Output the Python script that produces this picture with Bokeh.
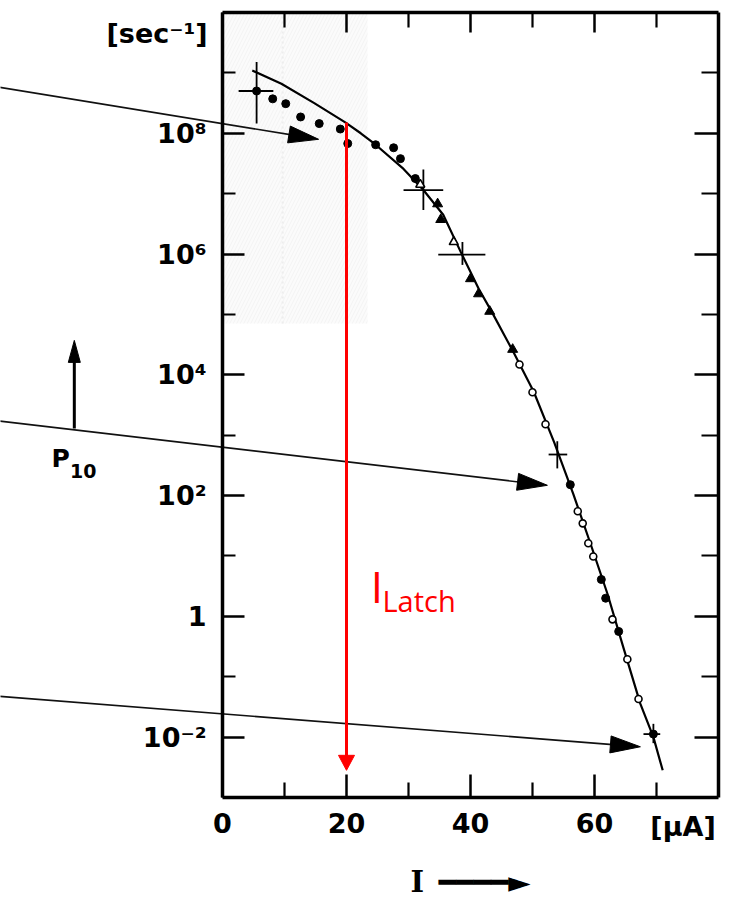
import math

from bokeh.embed import file_html
from bokeh.models import FixedTicker, Label, LinearAxis, LogAxis, Range1d
from bokeh.plotting import figure
from bokeh.resources import INLINE

# ---------------------------------------------------------------- data
# current I [uA] and log10 of the rate [1/sec]
curve_i = [4.8, 9.5, 14.8, 19.8, 22.3, 24.7, 29.2, 32.4, 35.6, 38.4, 41.3,
           43.5, 46.9, 50.2, 53.5, 56.6, 59.4, 62.1, 64.7, 67.4, 69.5, 71.0]
curve_log = [9.04, 8.82, 8.50, 8.18, 8.00, 7.81, 7.41, 7.06, 6.65, 6.04, 5.43,
             5.03, 4.38, 3.72, 2.88, 2.02, 1.19, 0.37, -0.53, -1.45, -2.00, -2.55]

dot_i = [5.5, 8.1, 10.2, 12.6, 15.6, 19.0, 20.2, 24.7, 27.6, 28.7, 31.1,
         56.1, 61.1, 61.8, 63.9, 69.5]
dot_log = [8.70, 8.57, 8.49, 8.27, 8.16, 8.07, 7.83, 7.81, 7.76, 7.58, 7.25,
           2.18, 0.61, 0.30, -0.25, -1.95]

tri_i = [34.7, 35.2, 40.0, 41.3, 43.1, 46.8]
tri_log = [6.83, 6.57, 5.59, 5.34, 5.05, 4.42]

open_tri_i = [31.9, 37.3]
open_tri_log = [7.15, 6.20]

open_dot_i = [47.9, 50.0, 52.1, 57.3, 58.1, 59.0, 59.8, 62.9, 65.3, 67.1]
open_dot_log = [4.17, 3.71, 3.18, 1.74, 1.54, 1.21, 0.99, -0.05, -0.71, -1.37]

# error crosses: centre, current span, rate span
err_i = [5.5, 32.4, 38.7, 54.0, 69.5]
err_log = [8.70, 7.06, 5.99, 2.68, -1.95]
err_i_lo = [2.6, 29.2, 34.8, 52.6, 67.9]
err_i_hi = [8.2, 35.6, 42.4, 55.6, 70.6]
err_log_lo = [8.16, 6.73, 5.82, 2.45, -2.10]
err_log_hi = [9.18, 7.40, 6.20, 2.90, -1.78]

# pointer arrows coming in from the left
ptr_start_i = [-36.5, -36.5, -36.5]
ptr_start_log = [8.77, 3.24, -1.32]
ptr_tip_i = [15.5, 52.4, 67.4]
ptr_tip_log = [7.90, 2.17, -2.16]

# P10 marker arrow
p10_i = -23.9
p10_log_from = 3.11
p10_log_to = 4.57

# latch current marker
latch_i = 20.0
latch_log_top = 8.18
latch_log_bottom = -2.55

# faint shaded region in the upper left
shade_i = [0.0, 23.4]
shade_log = [4.85, 10.0]

x_major = [0, 20, 40, 60]
x_minor = [10, 30, 50, 70]
y_major_exp = [-2, 0, 2, 4, 6, 8]
y_minor_exp = [-1, 1, 3, 5, 7, 9]
y_labels = ["10⁻²", "1", "10²", "10⁴", "10⁶", "10⁸"]

# ---------------------------------------------------------------- layout
X_MIN, X_MAX = 0.0, 80.0
LOG_MIN, LOG_MAX = -3.0, 10.0
W, H = 730, 900
# margins around the data box; the canvas itself carries the notes
B_LEFT, B_RIGHT, B_TOP, B_BOTTOM = 222, 12, 12, 103
BOX_W = W - B_LEFT - B_RIGHT
BOX_H = H - B_TOP - B_BOTTOM
px_x = BOX_W / (X_MAX - X_MIN)
px_y = BOX_H / (LOG_MAX - LOG_MIN)

X_LO, X_HI = X_MIN - B_LEFT / px_x, X_MAX + B_RIGHT / px_x
LOG_LO, LOG_HI = LOG_MIN - B_BOTTOM / px_y, LOG_MAX + B_TOP / px_y

TICK_FONT = "DejaVu Sans"


def pw(v):
    return [10.0 ** a for a in v]


def arrow_head(xs, ls, xe, le, length, half):
    """Narrow filled head at (xe, le) pointing away from (xs, ls)."""
    dx, dy = (xe - xs) * px_x, (le - ls) * px_y
    n = math.hypot(dx, dy)
    ux, uy = dx / n, dy / n
    bx, by = -ux * length, -uy * length
    nx, ny = -uy * half, ux * half
    pts = [(0.0, 0.0), (bx + nx, by + ny), (bx - nx, by - ny)]
    hx = [xe + a / px_x for a, _ in pts]
    hy = [10 ** (le + b / px_y) for _, b in pts]
    base = (xe - ux * length * 0.6 / px_x, le - uy * length * 0.6 / px_y)
    return hx, hy, base


p = figure(width=W, height=H, output_backend="svg", toolbar_location=None,
           x_range=Range1d(X_LO, X_HI),
           y_range=Range1d(10 ** LOG_LO, 10 ** LOG_HI),
           y_axis_type="log",
           min_border_left=0, min_border_right=0,
           min_border_top=0, min_border_bottom=0)
p.background_fill_color = "white"
p.border_fill_color = "white"
p.outline_line_color = None
p.xgrid.visible = False
p.ygrid.visible = False

xt = FixedTicker(ticks=x_major, minor_ticks=x_minor)
yt = FixedTicker(ticks=pw(y_major_exp), minor_ticks=pw(y_minor_exp))


def style_axis(ax, major_in, minor_in, blank_ticks=None):
    ax.axis_line_color = "black"
    ax.axis_line_width = 3.5
    ax.major_tick_in = major_in
    ax.major_tick_out = 0
    ax.minor_tick_in = minor_in
    ax.minor_tick_out = 0
    ax.major_tick_line_color = "black"
    ax.major_tick_line_width = 2.5
    ax.minor_tick_line_color = "black"
    ax.minor_tick_line_width = 2.2
    if blank_ticks is None:
        ax.major_label_text_font = TICK_FONT
        ax.major_label_text_font_style = "bold"
        ax.major_label_text_font_size = "27px"
        ax.major_label_text_color = "black"
    else:
        # tick marks only on the opposite sides of the box
        ax.major_label_overrides = {t: "" for t in blank_ticks}
        ax.major_label_text_font_size = "2px"
        ax.major_label_standoff = 0


xa = p.xaxis[0]
xa.ticker = xt
xa.bounds = (X_MIN, X_MAX)
xa.fixed_location = 10 ** LOG_MIN
style_axis(xa, 23, 15)
xa.major_label_standoff = 15
xa.axis_label = "I\u2002━━━━►"
xa.axis_label_text_font = "DejaVu Serif"
xa.axis_label_text_font_style = "bold"
xa.axis_label_text_font_size = "29px"
xa.axis_label_text_color = "black"
xa.axis_label_standoff = 29

ya = p.yaxis[0]
ya.ticker = yt
ya.bounds = (10 ** LOG_MIN, 10 ** LOG_MAX)
ya.fixed_location = X_MIN
style_axis(ya, 22, 13)
ya.major_label_standoff = 16
ya.major_label_overrides = {10.0 ** e: t for e, t in zip(y_major_exp, y_labels)}

top = LinearAxis(ticker=xt, bounds=(X_MIN, X_MAX), fixed_location=10 ** LOG_MAX)
style_axis(top, 20, 15, blank_ticks=x_major)
p.add_layout(top, "above")

right = LogAxis(ticker=yt, bounds=(10 ** LOG_MIN, 10 ** LOG_MAX),
                fixed_location=X_MAX)
style_axis(right, 24, 17, blank_ticks=pw(y_major_exp))
p.add_layout(right, "right")

# faint shaded area
p.quad(left=shade_i[0], right=shade_i[1], bottom=10 ** shade_log[0],
       top=10 ** shade_log[1], fill_color="#fbfbfb", line_color=None,
       hatch_pattern="/", hatch_color="#f3f3f3", hatch_scale=7, hatch_weight=1)
p.segment(x0=9.7, y0=10 ** shade_log[0], x1=9.7, y1=10 ** shade_log[1],
          line_color="#ededed", line_width=2, line_dash="2 3")

# fitted curve
p.line(curve_i, pw(curve_log), line_color="black", line_width=2.2)

# error crosses
p.segment(x0=err_i_lo, y0=pw(err_log), x1=err_i_hi, y1=pw(err_log),
          line_color="black", line_width=1.8)
p.segment(x0=err_i, y0=pw(err_log_lo), x1=err_i, y1=pw(err_log_hi),
          line_color="black", line_width=1.8)

# measured points
p.scatter(dot_i, pw(dot_log), marker="circle", size=8, fill_color="black",
          line_color="black")
p.scatter(tri_i, pw(tri_log), marker="triangle", size=10, fill_color="black",
          line_color="black")
p.scatter(open_tri_i, pw(open_tri_log), marker="triangle", size=9,
          fill_color="white", line_color="black", line_width=1.6)
p.scatter(open_dot_i, pw(open_dot_log), marker="circle", size=7,
          fill_color="white", line_color="black", line_width=1.6)

# pointer arrows from the left margin
for xs, ls, xe, le in zip(ptr_start_i, ptr_start_log, ptr_tip_i, ptr_tip_log):
    hx, hy, (bx, bl) = arrow_head(xs, ls, xe, le, 30.0, 8.5)
    p.segment(x0=xs, y0=10 ** ls, x1=bx, y1=10 ** bl,
              line_color="#111111", line_width=1.6)
    p.patch(hx, hy, fill_color="black", line_color="black", line_width=1)

# P10 marker arrow
hx, hy, (bx, bl) = arrow_head(p10_i, p10_log_from, p10_i, p10_log_to, 22.0, 6.0)
p.segment(x0=p10_i, y0=10 ** p10_log_from, x1=bx, y1=10 ** bl,
          line_color="black", line_width=3)
p.patch(hx, hy, fill_color="black", line_color="black", line_width=1)

# latch current
hx, hy, (bx, bl) = arrow_head(latch_i, latch_log_top, latch_i, latch_log_bottom,
                              15.0, 8.0)
p.segment(x0=latch_i, y0=10 ** latch_log_top, x1=bx, y1=10 ** bl,
          line_color="#ff0000", line_width=3)
p.patch(hx, hy, fill_color="#ff0000", line_color="#ff0000", line_width=1)

p.add_layout(Label(x=23.9, y=10 ** 0.51, text="I", text_color="#ff0000",
                   text_font="Open Sans", text_font_size="44px",
                   text_baseline="middle", text_align="left"))
p.add_layout(Label(x=25.8, y=10 ** 0.26, text="Latch", text_color="#ff0000",
                   text_font="Open Sans", text_font_size="29px",
                   text_baseline="middle", text_align="left"))

# unit labels and the P10 tag
p.add_layout(Label(x=-2.4, y=10 ** 9.65, text="[sec⁻¹]", text_color="black",
                   text_font=TICK_FONT, text_font_style="bold",
                   text_font_size="27px", text_align="right",
                   text_baseline="middle"))
p.add_layout(Label(x=69.0, y=10 ** -3.48, text="[µA]", text_color="black",
                   text_font=TICK_FONT, text_font_style="bold",
                   text_font_size="27px", text_align="left",
                   text_baseline="middle"))
p.add_layout(Label(x=-27.6, y=10 ** 2.62, text="P", text_color="black",
                   text_font=TICK_FONT, text_font_style="bold",
                   text_font_size="25px", text_baseline="middle"))
p.add_layout(Label(x=-24.6, y=10 ** 2.41, text="10", text_color="black",
                   text_font=TICK_FONT, text_font_style="bold",
                   text_font_size="19px", text_baseline="middle"))

open("out.html", "w").write(file_html(p, INLINE))
